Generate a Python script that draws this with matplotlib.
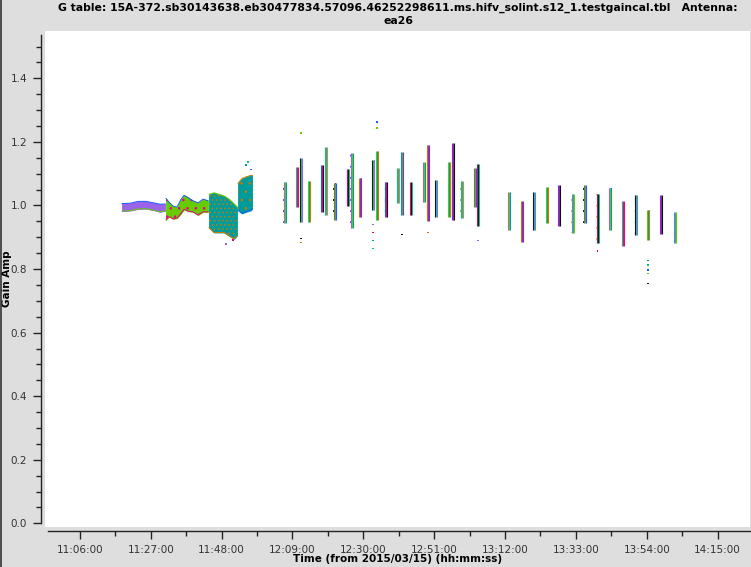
import numpy as np
import matplotlib
matplotlib.use("Agg")
import matplotlib.pyplot as plt
from matplotlib.ticker import FixedLocator, FuncFormatter
from matplotlib.lines import Line2D

# Gain amplitude vs time for antenna ea26

# early part of the track: continuous solutions, envelope of the points
drift_time = ["11:18:29", "11:20:51", "11:23:13", "11:25:35", "11:27:58", "11:29:44", "11:31:14",
              "11:31:31", "11:32:25", "11:33:36", "11:34:47", "11:35:58", "11:36:52", "11:38:02",
              "11:39:31", "11:41:01", "11:42:29", "11:43:58",
              "11:44:16", "11:45:45", "11:47:14", "11:48:43", "11:50:12", "11:51:41", "11:52:34",
              "11:52:52", "11:54:03", "11:55:14", "11:56:43", "11:57:02"]
drift_lo = [0.982, 0.984, 0.989, 0.990, 0.985, 0.980, 0.983,
            0.955, 0.965, 0.958, 0.960, 0.975, 0.988, 0.982, 0.980, 0.970, 0.980, 0.980,
            0.930, 0.915, 0.915, 0.915, 0.905, 0.895, 0.905,
            0.985, 0.975, 0.980, 0.985, 0.990]
drift_hi = [1.006, 1.007, 1.013, 1.013, 1.008, 1.004, 1.005,
            1.022, 1.010, 0.998, 0.995, 1.020, 1.032, 1.025, 1.015, 1.008, 1.020, 1.015,
            1.035, 1.040, 1.035, 1.030, 1.020, 1.005, 0.995,
            1.070, 1.085, 1.090, 1.095, 1.095]
drift_block = [0] * 7 + [1] * 11 + [2] * 7 + [3] * 5

# later part: separate short scans (mid time, min and max amplitude)
scan_time = ["12:06:39", "12:10:21", "12:11:32", "12:13:55", "12:17:46", "12:18:58", "12:21:28",
             "12:25:28", "12:26:31", "12:29:02", "12:32:53", "12:34:04", "12:36:35", "12:40:17",
             "12:41:29", "12:44:09", "12:48:00", "12:49:11", "12:51:34", "12:55:25", "12:56:27",
             "12:59:07", "13:03:07", "13:04:01", "13:13:12", "13:17:03", "13:20:37", "13:24:28",
             "13:28:01", "13:32:01", "13:35:35", "13:39:26", "13:43:08", "13:47:00", "13:50:42",
             "13:54:24", "13:58:15", "14:02:16"]
scan_lo = [0.945, 0.994, 0.947, 0.947, 0.978, 0.969, 0.953, 0.997, 0.930, 0.963, 0.985, 0.953,
           0.963, 1.007, 0.969, 0.969, 1.010, 0.950, 0.963, 0.963, 0.953, 0.960, 0.994, 0.937,
           0.922, 0.884, 0.922, 0.944, 0.937, 0.912, 0.944, 0.881, 0.922, 0.871, 0.906, 0.890,
           0.909, 0.881]
scan_hi = [1.075, 1.120, 1.148, 1.076, 1.126, 1.183, 1.070, 1.114, 1.164, 1.088, 1.142, 1.173,
           1.073, 1.117, 1.167, 1.073, 1.136, 1.190, 1.079, 1.136, 1.198, 1.076, 1.117, 1.132,
           1.041, 1.013, 1.041, 1.057, 1.066, 1.035, 1.063, 1.035, 1.054, 1.013, 1.032, 0.985,
           1.032, 0.981]

# stray points outside the main envelopes
outlier_time = ["11:49:19", "11:51:28", "11:55:14", "11:55:55", "11:56:43",
                "12:11:32", "12:11:32", "12:11:32", "12:32:53", "12:32:53", "12:32:53", "12:32:53",
                "12:34:04", "12:34:04", "12:41:29", "12:49:11", "13:04:01", "13:39:26",
                "13:54:24", "13:54:24", "13:54:24", "13:54:24", "13:54:24"]
outlier_amp = [0.878, 0.891, 1.127, 1.137, 1.113,
               1.227, 0.896, 0.884, 0.940, 0.915, 0.890, 0.865,
               1.262, 1.243, 0.909, 0.915, 0.890, 0.856,
               0.827, 0.812, 0.796, 0.786, 0.755]

xtick_labels = ["11:06:00", "11:27:00", "11:48:00", "12:09:00", "12:30:00",
                "12:51:00", "13:12:00", "13:33:00", "13:54:00", "14:15:00"]

title = ("G table: 15A-372.sb30143638.eb30477834.57096.46252298611.ms.hifv_solint.s12_1"
         ".testgaincal.tbl   Antenna:")


def to_sec(s):
    h, m, x = s.split(":")
    return int(h) * 3600 + int(m) * 60 + int(x)


def hms(v, pos=None):
    v = int(round(v))
    return "%02d:%02d:%02d" % (v // 3600, (v % 3600) // 60, v % 60)


palette = ["#9b63e8", "#66cc00", "#009b9b", "#cc7a00", "#1a5cff", "#ee0080", "#111111", "#00cc77"]
plt.rcParams["hatch.linewidth"] = 0.6

fig = plt.figure(figsize=(7.51, 5.67), dpi=100, facecolor="#dedede")
ax = fig.add_axes([45 / 751, 40 / 567, 705 / 751, 496 / 567], facecolor="white")

dt = np.array([to_sec(s) for s in drift_time])
dlo = np.array(drift_lo)
dhi = np.array(drift_hi)
blk = np.array(drift_block)
# base colour, speckle colour and edge colours for each block of the drift section
block_style = [("#9b63e8", None, "#66cc00", "#1a5cff"),
               ("#66cc00", "#ee0080", "#ee0080", "#1a5cff"),
               ("#009b9b", "#cc7a00", "#cc7a00", "#66cc00"),
               ("#009b9b", "#cc7a00", "#1a5cff", "#cc7a00")]
for b, (c1, c2, elo, ehi) in enumerate(block_style):
    m = blk == b
    ax.fill_between(dt[m], dlo[m], dhi[m], color=c1, linewidth=0.6, edgecolor=c1)
    if c2:
        ax.fill_between(dt[m], dlo[m], dhi[m], facecolor="none", edgecolor=c2,
                        hatch="...." if b == 2 else "..", linewidth=0)
    ax.plot(dt[m], dlo[m], color=elo, linewidth=0.7)
    ax.plot(dt[m], dhi[m], color=ehi, linewidth=0.7)

# scans: thin multicoloured columns
st = np.array([to_sec(s) for s in scan_time])
slo = np.array(scan_lo)
shi = np.array(scan_hi)
for i in range(len(st)):
    cols = [palette[(i * 3 + k) % len(palette)] for k in range(3)]
    for k, dx in enumerate([-18, 0, 18]):
        ax.vlines(st[i] + dx, slo[i], shi[i], colors=cols[k], linewidth=0.8)
    ax.bar(st[i], shi[i] - slo[i], bottom=slo[i], width=54, facecolor="none",
           edgecolor=palette[(i * 3 + 4) % len(palette)], hatch="...", linewidth=0)

ot = np.array([to_sec(s) for s in outlier_time])
ax.scatter(ot, outlier_amp, s=1.5, marker="s", linewidths=0,
           c=[palette[(k * 5) % len(palette)] for k in range(len(ot))])

# axes in plotms style
x0 = to_sec("11:06:00")
px = 21 * 60 / 70.86  # seconds per pixel
ax.set_xlim(x0 - 34.9 * px, x0 + 670.1 * px)
ax.set_ylim(-0.0116, 1.549)

majors = [to_sec(s) for s in xtick_labels]
ax.xaxis.set_major_locator(FixedLocator(majors))
ax.xaxis.set_minor_locator(FixedLocator([m + 630 for m in majors]))
ax.xaxis.set_major_formatter(FuncFormatter(hms))
ax.set_yticks(np.arange(0, 1.41, 0.2))
ax.yaxis.set_minor_locator(FixedLocator(np.arange(0, 1.53, 0.05)))
ax.yaxis.set_major_formatter(FuncFormatter(lambda v, p: "%.1f" % v))

for s in ["top", "right"]:
    ax.spines[s].set_visible(False)
ax.spines["left"].set_position(("outward", 3))
ax.spines["bottom"].set_position(("outward", 3))
ax.spines["left"].set_bounds(0, 1.536)
ax.spines["bottom"].set_bounds(x0 - 31.9 * px, x0 + 670.1 * px)
for s in ["left", "bottom"]:
    ax.spines[s].set_linewidth(1.0)
    ax.spines[s].set_color("#222222")

ax.tick_params(which="major", length=6, width=1.0, color="#222222", labelsize=7.5,
               labelcolor="#333333", pad=4)
ax.tick_params(which="minor", length=3.5, width=1.0, color="#222222")

ax.set_ylabel("Gain Amp", fontsize=7.5, fontweight="bold")
ax.set_xlabel("Time (from 2015/03/15) (hh:mm:ss)", fontsize=7.5, fontweight="bold")
ax.yaxis.set_label_coords(-33 / 705, 0.5)
ax.xaxis.set_label_coords(0.5, -27 / 496)

fig.text(398 / 751, 1 - 7.5 / 567, title, ha="center", va="center", fontsize=7.85, fontweight="bold")
fig.text(398 / 751, 1 - 20.5 / 567, "ea26", ha="center", va="center", fontsize=7.85, fontweight="bold")
fig.add_artist(Line2D([0.5 / 751, 0.5 / 751], [0, 1], color="#333333", linewidth=1.2))

fig.savefig("out.png", dpi=100, facecolor=fig.get_facecolor())
